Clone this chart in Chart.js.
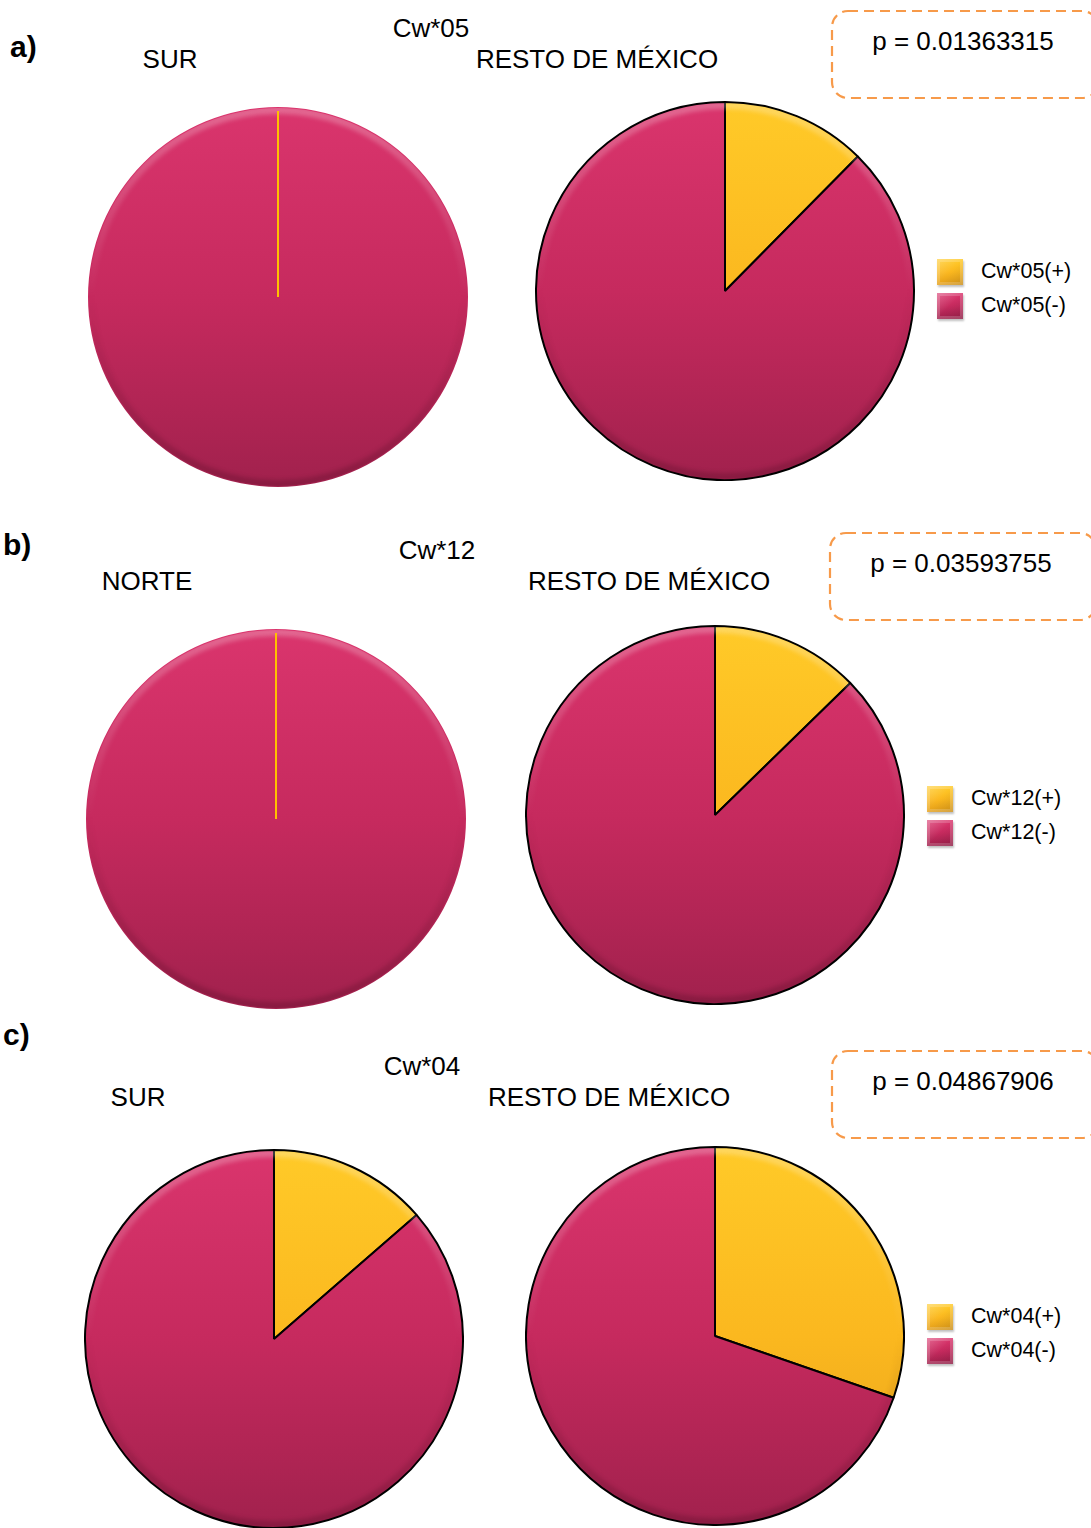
<!DOCTYPE html>
<html>
<head>
<meta charset="utf-8">
<script src="https://cdn.jsdelivr.net/npm/chart.js@4.4.1/dist/chart.umd.min.js"></script>
<style>
  html, body { margin: 0; padding: 0; background: #fff; }
  body { width: 1091px; height: 1528px; position: relative; overflow: hidden;
         font-family: "Liberation Sans", Arial, sans-serif; color: #000; }
  .txt { position: absolute; transform: translate(-50%, -50%); white-space: nowrap; font-size: 26px; line-height: 1; }
  .letter { position: absolute; transform: translateY(-50%); font-weight: bold; font-size: 30px; line-height: 1; }
  .pie { position: absolute; width: 380px; height: 380px; }
  .legend-item { position: absolute; display: flex; align-items: center; font-size: 21.5px; line-height: 1; height: 26px; }
  .legend-box { width: 26px; height: 26px; margin-right: 18px; box-sizing: border-box; }
  svg.pbox { position: absolute; overflow: visible; }
</style>
</head>
<body>
<script>
// Allele carriers (%) per region
const panelLetters = ['a)', 'b)', 'c)'];
const alleles = ['Cw*05', 'Cw*12', 'Cw*04'];
const groupNames = ['SUR', 'NORTE', 'SUR'];
const restName = 'RESTO DE MÉXICO';
const groupPositive = [0, 0, 13.6];
const groupNegative = [100, 100, 86.4];
const restPositive = [12.4, 12.7, 30.3];
const restNegative = [87.6, 87.3, 69.7];
const pValues = ['0.01363315', '0.03593755', '0.04867906'];

// Page layout for each panel (pixel positions)
const layout = [
  { letter: [10, 47], allele: [431, 28], group: [170, 59], rest: [597, 59],
    box: [831, 10], pText: [963, 41], leftPie: [278, 297], rightPie: [725, 291],
    legend: [937, 272], leftBorder: 0 },
  { letter: [3, 545], allele: [437, 550], group: [147, 581], rest: [649, 581],
    box: [829, 532], pText: [961, 563], leftPie: [276, 819], rightPie: [715, 815],
    legend: [927, 799], leftBorder: 0 },
  { letter: [3, 1035], allele: [422, 1066], group: [138, 1097], rest: [609, 1097],
    box: [831, 1050], pText: [963, 1081], leftPie: [274, 1339], rightPie: [715, 1336],
    legend: [927, 1317], leftBorder: 2 }
];

const PINK = ['#DA356D', '#C62A5E', '#A1214D'];
const GOLD = ['#FFCA28', '#FBB81F', '#E5A01B'];

function addText(cls, text, x, y) {
  const d = document.createElement('div');
  d.className = cls;
  d.textContent = text;
  d.style.left = x + 'px';
  d.style.top = y + 'px';
  document.body.appendChild(d);
  return d;
}

function vGradient(ctx, area, stops) {
  const g = ctx.createLinearGradient(0, area.top, 0, area.bottom);
  g.addColorStop(0, stops[0]);
  g.addColorStop(0.5, stops[1]);
  g.addColorStop(1, stops[2]);
  return g;
}

// Soft bevel on the rim and a marker line for empty slices
const bevelPlugin = {
  id: 'bevel',
  afterDatasetsDraw(chart) {
    const meta = chart.getDatasetMeta(0);
    const arc0 = meta.data[0];
    if (!arc0) return;
    const ctx = chart.ctx;
    const { x, y, outerRadius } = arc0.getProps(['x', 'y', 'outerRadius'], true);
    ctx.save();
    ctx.beginPath();
    ctx.arc(x, y, outerRadius - 1, 0, Math.PI * 2);
    ctx.clip();
    const g = ctx.createLinearGradient(0, y - outerRadius, 0, y + outerRadius);
    g.addColorStop(0, 'rgba(255,255,255,0.26)');
    g.addColorStop(0.5, 'rgba(255,255,255,0)');
    g.addColorStop(0.5, 'rgba(40,0,15,0)');
    g.addColorStop(1, 'rgba(40,0,15,0.2)');
    ctx.filter = 'blur(2px)';
    ctx.lineWidth = 8;
    ctx.strokeStyle = g;
    ctx.beginPath();
    ctx.arc(x, y, outerRadius - 3, 0, Math.PI * 2);
    ctx.stroke();
    ctx.restore();

    meta.data.forEach((arc, i) => {
      const p = arc.getProps(['x', 'y', 'startAngle', 'endAngle', 'outerRadius'], true);
      if (chart.data.datasets[0].data[i] === 0) {
        ctx.save();
        ctx.strokeStyle = '#FFC000';
        ctx.lineWidth = 2;
        ctx.beginPath();
        ctx.moveTo(p.x, p.y);
        ctx.lineTo(p.x + Math.cos(p.startAngle) * (p.outerRadius - 4),
                   p.y + Math.sin(p.startAngle) * (p.outerRadius - 4));
        ctx.stroke();
        ctx.restore();
      }
    });
  }
};

function makePie(center, values, labels, borderWidth) {
  const c = document.createElement('canvas');
  c.className = 'pie';
  c.width = 380; c.height = 380;
  c.style.left = (center[0] - 190) + 'px';
  c.style.top = (center[1] - 190) + 'px';
  document.body.appendChild(c);
  new Chart(c, {
    type: 'pie',
    data: {
      labels: labels,
      datasets: [{
        data: values,
        backgroundColor(ctx) {
          const area = ctx.chart.chartArea;
          if (!area) return ctx.dataIndex === 0 ? GOLD[1] : PINK[1];
          return vGradient(ctx.chart.ctx, area, ctx.dataIndex === 0 ? GOLD : PINK);
        },
        borderColor: '#000',
        borderWidth: borderWidth,
        borderJoin: 'miter'
      }]
    },
    options: {
      responsive: false,
      animation: false,
      layout: { padding: 0 },
      plugins: { legend: { display: false }, tooltip: { enabled: false } }
    },
    plugins: [bevelPlugin]
  });
}

function dashedBox(x, y) {
  const ns = 'http://www.w3.org/2000/svg';
  const svg = document.createElementNS(ns, 'svg');
  svg.setAttribute('class', 'pbox');
  svg.setAttribute('width', '270');
  svg.setAttribute('height', '92');
  svg.style.left = x + 'px';
  svg.style.top = y + 'px';
  const r = document.createElementNS(ns, 'rect');
  r.setAttribute('x', '1'); r.setAttribute('y', '1');
  r.setAttribute('width', '266'); r.setAttribute('height', '87');
  r.setAttribute('rx', '16'); r.setAttribute('ry', '16');
  r.setAttribute('fill', 'none');
  r.setAttribute('stroke', '#F79A4A');
  r.setAttribute('stroke-width', '2.2');
  r.setAttribute('stroke-dasharray', '10 6');
  svg.appendChild(r);
  document.body.appendChild(svg);
}

function legendBox(colors) {
  const b = document.createElement('div');
  b.className = 'legend-box';
  b.style.background =
    'linear-gradient(135deg, rgba(255,255,255,0.25) 0%, rgba(255,255,255,0) 50%, rgba(0,0,0,0.12) 100%),' +
    'linear-gradient(180deg,' + colors[0] + ',' + colors[1] + ' 50%,' + colors[2] + ')';
  b.style.boxShadow = 'inset 0 0 0 3px rgba(255,255,255,0.18), 1px 2px 2px rgba(0,0,0,0.25)';
  return b;
}

function addLegend(x, yMid, allele) {
  const items = [[allele + '(+)', GOLD], [allele + '(-)', PINK]];
  items.forEach((it, i) => {
    const row = document.createElement('div');
    row.className = 'legend-item';
    row.style.left = x + 'px';
    row.style.top = (yMid - 13 + i * 34) + 'px';
    row.appendChild(legendBox(it[1]));
    const s = document.createElement('span');
    s.textContent = it[0];
    row.appendChild(s);
    document.body.appendChild(row);
  });
}

alleles.forEach((allele, i) => {
  const L = layout[i];
  addText('letter', panelLetters[i], L.letter[0], L.letter[1]);
  addText('txt', allele, L.allele[0], L.allele[1]);
  addText('txt', groupNames[i], L.group[0], L.group[1]);
  addText('txt', restName, L.rest[0], L.rest[1]);
  dashedBox(L.box[0], L.box[1]);
  addText('txt', 'p = ' + pValues[i], L.pText[0], L.pText[1]);
  const labels = [allele + '(+)', allele + '(-)'];
  makePie(L.leftPie, [groupPositive[i], groupNegative[i]], labels, L.leftBorder);
  makePie(L.rightPie, [restPositive[i], restNegative[i]], labels, 2);
  addLegend(L.legend[0], L.legend[1], allele);
});
</script>
</body>
</html>
